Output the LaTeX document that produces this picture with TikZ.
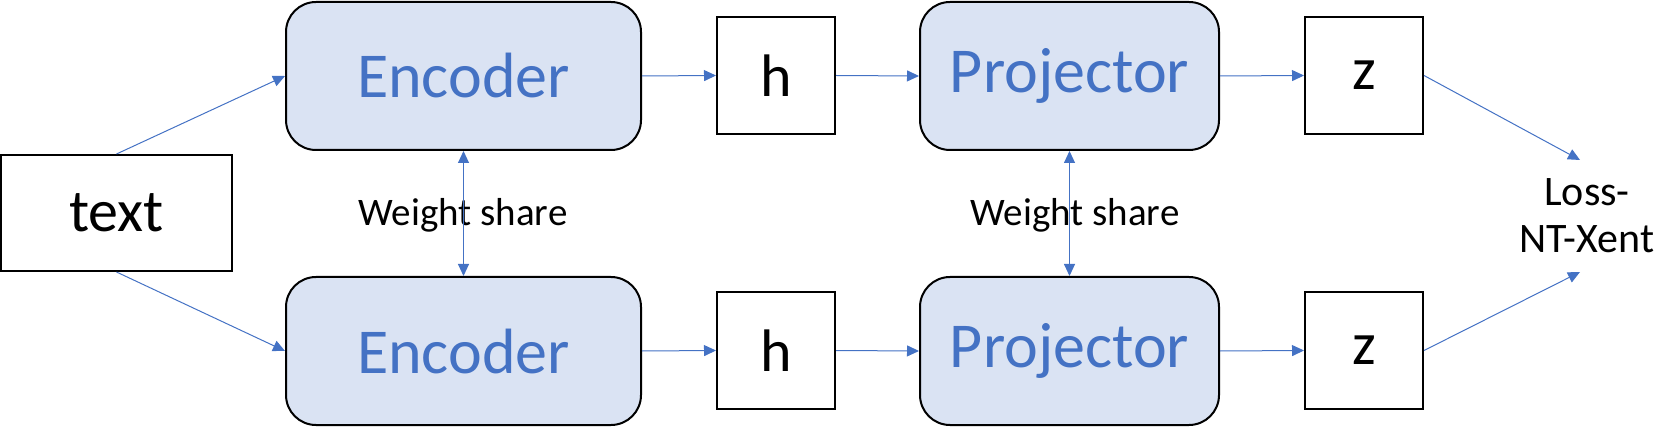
\documentclass[tikz,border=0pt]{standalone}
\usepackage{fontspec}
\setmainfont{Carlito}
\usetikzlibrary{arrows.meta}
\definecolor{boxfill}{HTML}{DAE3F3}
\definecolor{blu}{HTML}{4472C4}
\begin{document}
\begin{tikzpicture}[x=1pt,y=-1pt,
  blk/.style={draw=black,line width=2pt,fill=boxfill,rounded corners=30pt,inner sep=0pt,
    text=blu,font=\fontsize{64}{70}\selectfont},
  sq/.style={draw=black,line width=2pt,fill=white,inner sep=0pt,font=\fontsize{60}{66}\selectfont},
  lbl/.style={inner sep=0pt,font=\fontsize{39}{43}\selectfont,align=center},
  arr/.style={draw=blu,line width=1pt,-{Triangle[length=12pt,width=11pt]}},
  darr/.style={draw=blu,line width=1pt,{Triangle[length=12pt,width=11pt]}-{Triangle[length=12pt,width=11pt]}}]
\useasboundingbox (0,0) rectangle (1680,427);
\node[sq,minimum width=231pt,minimum height=116pt] (text) at (116.5,213) {text};
\node[blk,minimum width=355pt,minimum height=148pt] (encT) at (463.5,76) {Encoder};
\node[blk,minimum width=355pt,minimum height=148pt] (encB) at (463.5,351) {Encoder};
\node[sq,minimum width=118pt,minimum height=117pt] (hT) at (776,75.5) {h};
\node[sq,minimum width=118pt,minimum height=117pt] (hB) at (776,350.5) {h};
\node[blk,minimum width=299pt,minimum height=148pt] (projT) at (1069.5,76) {Projector};
\node[blk,minimum width=299pt,minimum height=148pt] (projB) at (1069.5,351) {Projector};
\node[sq,minimum width=118pt,minimum height=117pt] (zT) at (1364,75.5) {z};
\node[sq,minimum width=118pt,minimum height=117pt] (zB) at (1364,350.5) {z};
\node[lbl,font=\fontsize{42}{46}\selectfont] (loss) at (1587,216) {Loss-\\[1pt]NT-Xent};
\node[lbl] (ws1) at (463,215) {Weight share};
\node[lbl] (ws2) at (1075,215) {Weight share};
\coordinate (lossT) at (1580,160);
\coordinate (lossB) at (1580,272);
\draw[arr] (text.north) -- (encT.west);
\draw[arr] (text.south) -- (encB.west);
\draw[arr] (encT.east) -- (hT.west);
\draw[arr] (encB.east) -- (hB.west);
\draw[arr] (hT.east) -- (projT.west);
\draw[arr] (hB.east) -- (projB.west);
\draw[arr] (projT.east) -- (zT.west);
\draw[arr] (projB.east) -- (zB.west);
\draw[arr] (zT.east) -- (lossT);
\draw[arr] (zB.east) -- (lossB);
\draw[darr] (encT.south) -- (encB.north);
\draw[darr] (projT.south) -- (projB.north);
\end{tikzpicture}
\end{document}
